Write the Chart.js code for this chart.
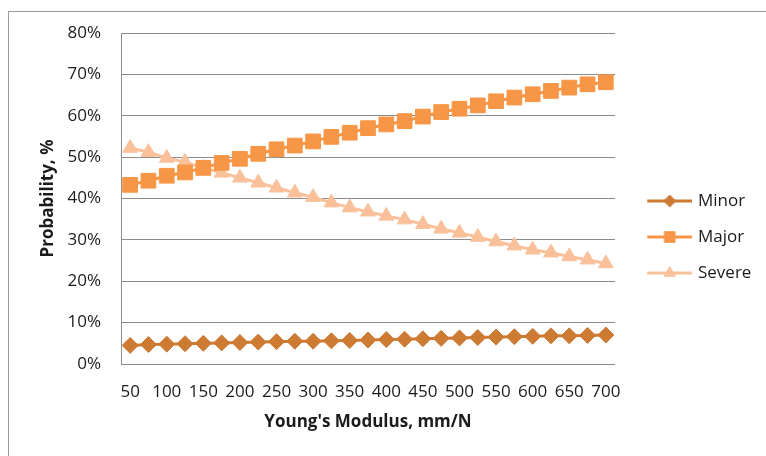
<!DOCTYPE html>
<html>
<head>
<meta charset="utf-8">
<title>Probability vs Young's Modulus</title>
<script src="https://cdn.jsdelivr.net/npm/chart.js@4/dist/chart.umd.min.js"></script>
<style>
  html, body { margin: 0; padding: 0; background: #ffffff; }
  #wrap { position: relative; width: 766px; height: 456px; overflow: hidden; }
  #frame { position: absolute; left: 8px; top: 11px; width: 800px; height: 500px;
           border-left: 1px solid #9a9a9a; border-top: 1px solid #9a9a9a; }
  #c { position: absolute; left: 0; top: 0; }
</style>
</head>
<body>
<div id="wrap">
  <div id="frame"></div>
  <canvas id="c" width="766" height="456"></canvas>
</div>
<script>
// Young's modulus categories (mm/N)
const moduli = ['50', '75', '100', '125', '150', '175', '200', '225', '250', '275',
                '300', '325', '350', '375', '400', '425', '450', '475', '500', '525',
                '550', '575', '600', '625', '650', '675', '700'];

// Probability of each damage class, %
const minor = [4.5, 4.7, 4.8, 4.9, 5.0, 5.1, 5.2, 5.3, 5.4, 5.5, 5.5, 5.6, 5.7, 5.8,
               5.9, 6.0, 6.1, 6.2, 6.3, 6.4, 6.5, 6.6, 6.7, 6.8, 6.8, 6.9, 7.0];
const major = [43.3, 44.3, 45.5, 46.3, 47.4, 48.6, 49.6, 50.8, 51.9, 52.8, 53.8, 54.9, 55.9, 57.0,
               57.9, 58.7, 59.8, 60.9, 61.7, 62.5, 63.5, 64.4, 65.2, 66.0, 66.8, 67.6, 68.1];
const severe = [52.2, 51.2, 49.8, 48.8, 47.4, 46.2, 45.0, 43.8, 42.6, 41.4, 40.3, 39.0, 37.8, 36.8,
                35.8, 34.9, 33.8, 32.7, 31.7, 30.7, 29.6, 28.6, 27.6, 26.9, 26.0, 25.2, 24.3];

// Labelled x positions (every other category)
const xTickLabels = ['50', '100', '150', '200', '250', '300', '350', '400',
                     '450', '500', '550', '600', '650', '700'];
const seriesNames = ['Minor', 'Major', 'Severe'];

const COLORS = { minor: '#CD7A33', major: '#F79646', severe: '#F9C09A' };
const TEXT = '#1b1b1b';
const GRID = '#8c8c8c';
const FONT = "'Open Sans', 'DejaVu Sans', sans-serif";

// Legend swatch: a short line with the series marker on it
function legendIcon(color, style, radius) {
  const cv = document.createElement('canvas');
  cv.width = 61; cv.height = 20;
  const g = cv.getContext('2d');
  g.strokeStyle = color; g.lineWidth = 3;
  g.beginPath(); g.moveTo(16, 10); g.lineTo(61, 10); g.stroke();
  g.fillStyle = color; g.strokeStyle = color; g.lineWidth = 1;
  Chart.helpers.drawPoint(g, { pointStyle: style, radius: radius, rotation: 0, borderWidth: 1 }, 38.5, 10);
  return cv;
}

const icons = [
  legendIcon(COLORS.minor, 'rectRot', 6),
  legendIcon(COLORS.major, 'rect', 7.5),
  legendIcon(COLORS.severe, 'triangle', 6.5)
];

// Fixed plot frame
const PLOT_LEFT = 121, PLOT_RIGHT = 615, PLOT_BOTTOM = 364;

const legendWidthPlugin = {
  id: 'legendWidth',
  beforeLayout(chart) {
    const lg = chart.legend;
    if (lg && !lg.__fixed) {
      const fit = lg.fit;
      lg.fit = function () { fit.call(this); this.width = chart.width - PLOT_RIGHT; };
      lg.__fixed = true;
    }
  }
};

function ds(label, data, color, style, radius) {
  return {
    label, data,
    borderColor: color, backgroundColor: color,
    pointBackgroundColor: color, pointBorderColor: color,
    borderWidth: 3, pointStyle: style, pointRadius: radius, pointHoverRadius: radius,
    pointBorderWidth: 1, tension: 0, fill: false
  };
}

new Chart(document.getElementById('c'), {
  type: 'line',
  data: {
    labels: moduli,
    datasets: [
      ds(seriesNames[0], minor, COLORS.minor, 'rectRot', 8),
      ds(seriesNames[1], major, COLORS.major, 'rect', 10.4),
      ds(seriesNames[2], severe, COLORS.severe, 'triangle', 8.5)
    ]
  },
  options: {
    responsive: false,
    animation: false,
    devicePixelRatio: 1,
    layout: { padding: { top: 33, left: 0, right: 0, bottom: 0 } },
    scales: {
      x: {
        type: 'category',
        offset: true,
        grid: { display: false, drawTicks: false },
        border: { display: false },
        ticks: {
          autoSkip: false, maxRotation: 0, minRotation: 0, padding: 18,
          color: TEXT, font: { family: FONT, size: 17 },
          callback(value, index) {
            const lab = this.getLabelForValue(value);
            return xTickLabels.includes(lab) && index % 2 === 0 ? lab : '';
          }
        },
        title: {
          display: true, text: "Young's Modulus, mm/N", color: TEXT,
          font: { family: FONT, size: 17, weight: 'bold' },
          padding: { top: 0, bottom: 24 }
        },
        afterFit(scale) { scale.height = 456 - PLOT_BOTTOM; }
      },
      y: {
        min: 0, max: 80,
        grid: { color: GRID, lineWidth: 1, drawTicks: false },
        border: { display: true, color: GRID, width: 1 },
        ticks: {
          stepSize: 10, padding: 20, color: TEXT,
          font: { family: FONT, size: 17 },
          callback: v => v + '%'
        },
        title: {
          display: true, text: 'Probability, %', color: TEXT,
          font: { family: FONT, size: 17, weight: 'bold' },
          padding: { top: 38, bottom: 0 }
        },
        afterFit(scale) { scale.width = PLOT_LEFT; }
      }
    },
    plugins: {
      tooltip: { enabled: false },
      legend: {
        position: 'right',
        align: 'center',
        fullSize: false,
        title: { display: true, text: ' ', padding: { top: 0, bottom: 56.5 }, font: { size: 17 } },
        labels: {
          usePointStyle: true,
          pointStyleWidth: 55.5,
          padding: 19,
          color: TEXT,
          font: { family: FONT, size: 17 },
          generateLabels(chart) {
            return chart.data.datasets.map((d, i) => ({
              text: d.label, pointStyle: icons[i], fillStyle: d.borderColor,
              strokeStyle: d.borderColor, lineWidth: 0, hidden: false, datasetIndex: i,
              fontColor: TEXT
            }));
          }
        }
      }
    }
  },
  plugins: [legendWidthPlugin]
});
</script>
</body>
</html>
